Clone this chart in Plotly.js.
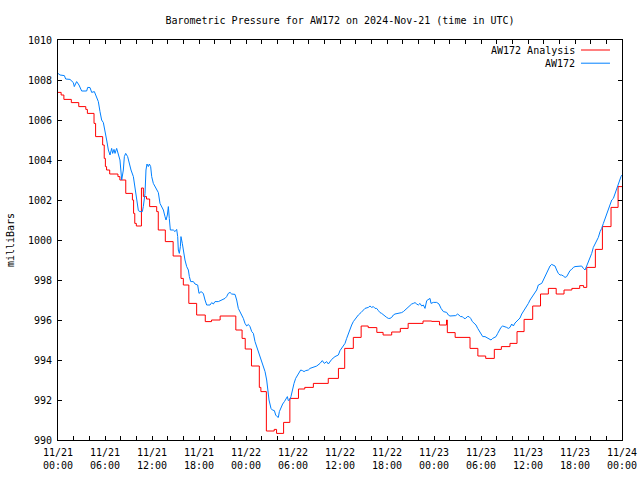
<!DOCTYPE html>
<html>
<head>
<meta charset="utf-8">
<script src="https://cdn.plot.ly/plotly-3.0.1.min.js"></script>
<style>
html,body{margin:0;padding:0;background:#ffffff;}
#chart{width:640px;height:480px;}
</style>
</head>
<body>
<div id="chart"></div>
<script>
// Hours since 2024-11-21 00:00 UTC
const startUTC = Date.UTC(2024, 10, 21, 0, 0, 0);

// Series 1: AW172 Analysis (step line)
const analysisHours = [0.0,0.4,0.75,1.7,2.65,3.55,3.75,4.6,4.8,5.7,5.9,6.05,6.2,6.6,7.65,7.9,8.65,9.5,9.65,9.8,10.0,10.65,10.9,11.3,11.7,12.6,12.8,13.7,14.7,15.7,16.0,16.7,17.7,18.8,19.6,20.7,22.7,23.5,23.9,24.7,25.7,25.9,26.6,27.6,27.9,28.8,29.6,30.7,31.5,32.6,34.5,35.8,36.6,37.7,38.7,39.6,40.7,41.5,42.6,43.7,44.7,46.6,47.7,48.7,49.6,49.7,50.7,52.6,53.6,54.6,55.7,56.6,57.7,58.6,59.5,60.6,61.6,62.6,63.6,64.6,65.6,66.6,67.1,67.5,68.6,69.5,70.6,71.5,72.0];
const analysisValues = [1007.38,1007.25,1007.03,1006.87,1006.67,1006.53,1006.33,1005.83,1005.17,1004.75,1004.08,1003.67,1003.5,1003.3,1003.17,1003.0,1002.33,1002.0,1001.33,1000.83,1000.7,1002.6,1002.17,1002.05,1001.67,1001.42,1000.5,999.92,999.2,998.08,997.75,996.83,996.25,995.92,996.0,996.2,995.5,995.08,994.55,993.7,992.63,992.42,990.45,990.53,990.33,990.88,992.08,992.55,992.63,992.83,993.08,993.58,994.58,995.13,995.7,995.62,995.38,995.25,995.4,995.58,995.83,995.95,995.93,995.75,996.0,995.37,995.13,994.58,994.2,994.08,994.53,994.67,994.83,995.42,996.03,996.7,997.3,997.58,997.3,997.5,997.58,997.72,997.63,998.63,999.53,1000.67,1001.63,1002.67,1002.67];

// Series 2: AW172 (station observations)
const stationHours = [0.0,0.26,0.81,0.98,1.53,1.96,2.08,2.38,2.68,3.02,3.66,3.79,4.09,4.3,4.64,4.94,5.15,5.36,5.57,5.79,6.0,6.21,6.43,6.64,6.85,6.98,7.15,7.28,7.49,7.7,7.91,8.13,8.34,8.47,8.64,8.89,9.06,9.32,9.62,9.83,10.04,10.26,10.47,10.77,10.89,11.11,11.23,11.36,11.53,11.66,11.83,11.96,12.17,12.38,12.6,12.81,13.02,13.24,13.45,13.66,13.79,13.96,14.09,14.21,14.34,14.72,14.94,15.15,15.28,15.36,15.49,15.62,15.7,15.87,16.0,16.21,16.43,16.64,16.77,16.94,17.28,17.49,17.83,18.0,18.26,18.55,18.77,18.98,19.41,19.62,19.83,20.04,20.47,20.89,21.32,21.53,21.74,21.96,22.17,22.6,22.81,23.02,23.24,23.45,23.66,23.87,24.09,24.3,24.51,24.73,24.94,25.15,25.36,25.58,25.79,26.0,26.22,26.43,26.64,26.77,26.94,27.19,27.36,27.62,27.79,27.96,28.13,28.26,28.47,28.68,28.9,29.11,29.28,29.4,29.62,29.74,29.91,30.13,30.34,30.56,30.77,30.98,31.2,31.41,31.62,31.96,32.17,32.6,33.03,33.45,33.74,34.0,34.3,34.51,34.72,34.94,35.36,35.79,36.0,36.21,36.43,36.64,36.85,37.07,37.28,37.49,37.7,37.92,38.13,38.34,38.68,38.98,39.19,39.62,39.83,40.04,40.26,40.47,40.68,40.9,41.11,41.32,41.53,41.74,41.96,42.17,42.38,42.6,42.81,43.02,43.45,43.87,44.09,44.3,44.51,44.72,44.94,45.15,45.36,45.58,45.79,46.0,46.21,46.43,46.64,46.85,47.07,47.28,47.49,47.62,47.92,48.34,48.64,48.9,49.2,49.62,49.83,50.04,50.47,50.77,51.02,51.19,51.4,51.62,51.83,52.04,52.26,52.47,52.68,52.9,53.15,53.36,53.58,53.79,54.0,54.22,54.51,54.72,55.02,55.28,55.49,55.7,55.92,56.13,56.34,56.55,56.77,57.07,57.28,57.49,57.7,57.92,58.13,58.34,58.56,58.77,58.98,59.2,59.41,59.62,59.84,60.05,60.26,60.47,60.69,60.9,61.11,61.32,61.54,61.75,61.96,62.17,62.39,62.6,62.81,63.02,63.24,63.45,63.66,63.87,64.09,64.3,64.51,64.73,64.94,65.15,65.36,65.58,65.79,66.0,66.22,66.43,66.64,66.85,67.07,67.28,67.49,67.71,67.92,68.13,68.34,68.56,68.77,68.98,69.2,69.41,69.62,69.83,70.05,70.26,70.47,70.69,70.9,71.11,71.32,71.54,71.75,71.87,72.0];
const stationValues = [1008.33,1008.25,1008.22,1008.05,1008.03,1007.87,1007.67,1007.92,1007.75,1007.45,1007.45,1007.63,1007.62,1007.38,1007.42,1007.17,1006.92,1006.42,1006.0,1005.87,1005.5,1005.0,1004.5,1004.25,1004.58,1004.33,1004.53,1004.33,1004.58,1004.25,1004.0,1003.0,1003.5,1004.17,1004.33,1004.17,1003.83,1003.5,1003.17,1002.58,1002.0,1001.47,1001.42,1001.42,1001.67,1002.33,1003.5,1003.8,1003.67,1003.8,1003.67,1003.17,1002.83,1002.7,1002.5,1002.37,1001.83,1001.67,1001.5,1001.17,1001.0,1001.25,1001.67,1001.08,1000.5,1000.5,1000.42,1000.53,1000.17,999.5,999.33,999.67,1000.17,999.83,999.5,999.0,998.67,998.5,998.17,997.92,997.92,997.8,997.75,997.33,997.42,997.33,997.0,996.75,996.75,996.87,996.8,996.92,996.92,997.0,997.08,997.17,997.33,997.38,997.3,997.28,997.0,996.58,996.42,996.25,996.08,995.83,995.7,995.78,995.67,995.42,995.33,994.92,994.67,994.47,994.25,994.0,993.7,993.42,993.0,992.5,992.0,991.58,991.5,991.47,991.25,991.17,991.13,991.42,991.67,991.8,991.92,992.08,992.17,991.97,992.03,992.17,992.5,992.83,993.08,993.25,993.42,993.5,993.47,993.42,993.47,993.5,993.58,993.63,993.7,993.83,993.97,993.83,993.92,993.8,993.92,994.03,994.17,994.25,994.47,994.58,994.67,994.83,995.08,995.33,995.53,995.75,995.92,996.03,996.17,996.25,996.37,996.53,996.58,996.63,996.7,996.63,996.67,996.58,996.58,996.47,996.37,996.33,996.25,996.2,996.13,996.08,996.08,996.13,996.25,996.3,996.33,996.37,996.42,996.5,996.58,996.67,996.75,996.8,996.83,996.87,996.8,996.75,996.83,996.7,996.75,996.58,996.97,997.03,997.08,996.83,996.88,996.88,996.8,996.58,996.42,996.38,996.25,996.2,996.2,996.22,996.3,996.25,996.17,996.17,996.08,996.08,996.17,996.17,996.08,995.92,995.83,995.75,995.58,995.42,995.3,995.17,995.17,995.13,995.08,995.0,995.08,995.13,995.17,995.33,995.5,995.63,995.7,995.67,995.63,995.58,995.63,995.8,995.7,995.85,995.95,996.0,996.1,996.3,996.42,996.53,996.67,996.83,997.0,997.13,997.2,997.33,997.5,997.75,997.78,997.83,998.0,998.17,998.33,998.5,998.7,998.78,998.75,998.7,998.5,998.33,998.25,998.25,998.2,998.13,998.17,998.33,998.47,998.53,998.63,998.67,998.67,998.7,998.67,998.7,998.58,998.5,998.7,998.92,999.08,999.33,999.63,999.8,999.92,1000.13,1000.42,1000.58,1000.83,1001.08,1001.33,1001.53,1001.83,1002.0,1002.08,1002.33,1002.58,1002.83,1003.08,1003.17,1003.25];

const seriesNames = ["AW172 Analysis", "AW172"];
const seriesColors = ["#ff0000", "#0080ff"];
const titleText = "Barometric Pressure for AW172 on 2024-Nov-21 (time in UTC)";
const yTitle = "milliBars";
const xStart = "2024-11-21 00:00:00";
const xEnd = "2024-11-24 00:00:00";

function toStamp(h) {
  const d = new Date(startUTC + Math.round(h * 3600000));
  return d.toISOString().slice(0, 19).replace("T", " ");
}

const FONT = "DejaVu Sans Mono, Liberation Mono, monospace";

const traces = [
  {
    x: analysisHours.map(toStamp),
    y: analysisValues,
    type: "scatter",
    mode: "lines",
    name: seriesNames[0],
    line: {color: seriesColors[0], width: 1, shape: "hv"}
  },
  {
    x: stationHours.map(toStamp),
    y: stationValues,
    type: "scatter",
    mode: "lines",
    name: seriesNames[1],
    line: {color: seriesColors[1], width: 1}
  }
];

const legendY = [0.975, 0.942];
const annotations = seriesNames.map((n, i) => ({
  text: n, xref: "paper", yref: "paper", x: 0.92, y: legendY[i],
  xanchor: "right", yanchor: "middle", showarrow: false,
  font: {family: FONT, size: 10, color: "#000"}
}));
const shapes = seriesNames.map((n, i) => ({
  type: "line", xref: "paper", yref: "paper",
  x0: 0.9273, x1: 0.9787, y0: legendY[i], y1: legendY[i],
  line: {color: seriesColors[i], width: 1}
}));

const layout = {
  width: 640,
  height: 480,
  margin: {l: 58, r: 18, t: 40, b: 40, pad: 0},
  paper_bgcolor: "#ffffff",
  plot_bgcolor: "#ffffff",
  font: {family: FONT, size: 10, color: "#000000"},
  showlegend: false,
  title: {
    text: titleText,
    x: 0.5, xref: "paper", xanchor: "center",
    y: 1 - 20 / 480, yref: "container", yanchor: "middle",
    font: {family: FONT, size: 10, color: "#000"}
  },
  xaxis: {
    type: "date",
    range: [xStart, xEnd],
    tick0: xStart,
    dtick: 6 * 3600000,
    tickformat: "%m/%d<br>%H:%M",
    ticks: "inside",
    ticklen: 4,
    tickcolor: "#000",
    showline: true,
    linecolor: "#000",
    linewidth: 1,
    mirror: "ticks",
    showgrid: false,
    zeroline: false,
    ticklabelstandoff: 3,
    minor: {dtick: 2 * 3600000, tick0: xStart, ticks: "inside", ticklen: 4, tickcolor: "#000", showgrid: false},
    tickfont: {family: FONT, size: 10, color: "#000"}
  },
  yaxis: {
    range: [990, 1010],
    dtick: 2,
    tick0: 990,
    ticks: "inside",
    ticklen: 4,
    tickcolor: "#000",
    showline: true,
    linecolor: "#000",
    linewidth: 1,
    mirror: "ticks",
    showgrid: false,
    zeroline: false,
    ticklabelstandoff: 3,
    tickfont: {family: FONT, size: 10, color: "#000"},
    title: {text: yTitle, standoff: 11, font: {family: FONT, size: 10, color: "#000"}}
  },
  annotations: annotations,
  shapes: shapes
};

Plotly.newPlot("chart", traces, layout, {displayModeBar: false, staticPlot: true});
</script>
</body>
</html>
